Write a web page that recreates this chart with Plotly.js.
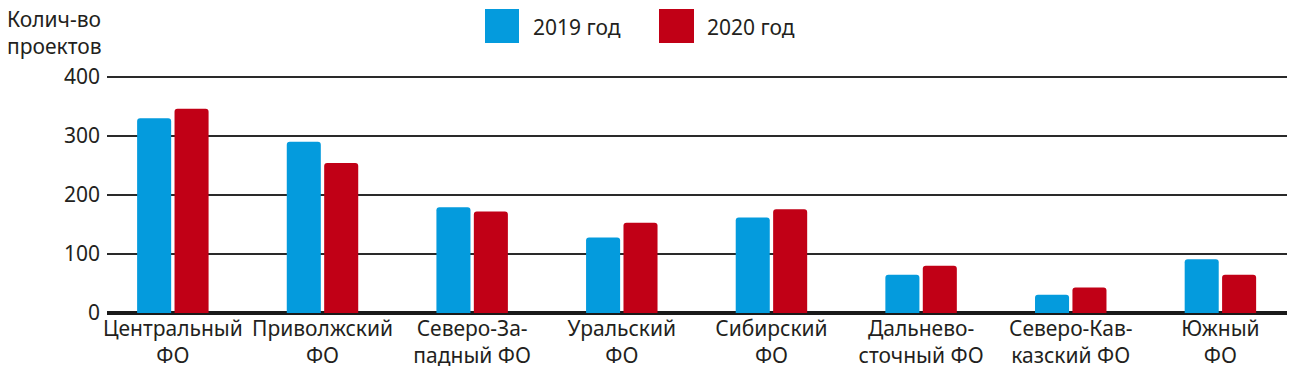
<!DOCTYPE html>
<html>
<head>
<meta charset="utf-8">
<script src="https://cdn.plot.ly/plotly-3.0.1.min.js"></script>
<style>html,body{margin:0;padding:0;background:#fff;}#chart{width:1300px;height:376px;}</style>
</head>
<body>
<div id="chart"></div>
<script>
// Data
const categories = [
  "Центральный<br>ФО",
  "Приволжский<br>ФО",
  "Северо-За-<br>падный ФО",
  "Уральский<br>ФО",
  "Сибирский<br>ФО",
  "Дальнево-<br>сточный ФО",
  "Северо-Кав-<br>казский ФО",
  "Южный<br>ФО"
];
const seriesNames = ["2019 год", "2020 год"];
const values2019 = [330, 290, 179, 128, 162, 65, 31, 91];
const values2020 = [346, 254, 172, 153, 176, 80, 43, 65];
const yTicks = [0, 100, 200, 300, 400];
const yTitle = "Колич-во<br>проектов";

const colors = ["#049bdd", "#c10016"];
const FONT = "Noto Sans, Open Sans, sans-serif";
const TXT = "#231f20";

const idx = categories.map((c, i) => i);
const traces = [values2019, values2020].map((v, k) => ({
  type: "bar",
  x: idx,
  y: v,
  name: seriesNames[k],
  marker: {color: colors[k], cornerradius: 3},
  showlegend: false,
  hoverinfo: "skip"
}));

// manual legend (large squares) placed in paper coordinates
const W = 1180, H = 239, L = 107, B = 313;
const px = x => (x - L) / W;
const py = y => (B - y) / H;
const legendX = [[485, 519, 531], [659, 694, 705]];
const shapes = legendX.map((lx, k) => ({
  type: "rect", xref: "paper", yref: "paper",
  x0: px(lx[0]), x1: px(lx[1]), y0: py(43), y1: py(9),
  fillcolor: colors[k], line: {width: 0}
}));
const annotations = legendX.map((lx, k) => ({
  xref: "paper", yref: "paper", x: px(lx[2]), y: py(27),
  xanchor: "left", yanchor: "middle", showarrow: false,
  text: seriesNames[k], font: {family: FONT, size: 21, color: TXT}
}));
annotations.push({
  xref: "paper", yref: "paper", x: px(5), y: py(3),
  xanchor: "left", yanchor: "top", align: "left", showarrow: false,
  text: yTitle, font: {family: FONT, size: 21, color: TXT}
});

const layout = {
  width: 1300, height: 376,
  margin: {l: L, r: 13, t: 74, b: 63},
  paper_bgcolor: "#fff", plot_bgcolor: "#fff",
  barmode: "group", bargap: 0.5, bargroupgap: 0.09,
  font: {family: FONT, size: 21, color: TXT},
  xaxis: {
    tickmode: "array", tickvals: idx, ticktext: categories,
    range: [-0.44, 7.445], showgrid: false, zeroline: false,
    showline: false, ticks: "", ticklabelstandoff: 1,
    tickfont: {family: FONT, size: 21, color: TXT}, fixedrange: true
  },
  yaxis: {
    range: [0, 405], tickmode: "array", tickvals: yTicks,
    showgrid: true, gridcolor: "#2a2a2a", gridwidth: 1.5,
    zeroline: true, zerolinecolor: "#1a1a1a", zerolinewidth: 4,
    showline: false, ticks: "", ticklabelstandoff: 6,
    tickfont: {family: FONT, size: 21, color: TXT}, fixedrange: true
  },
  shapes: shapes,
  annotations: annotations
};

Plotly.newPlot("chart", traces, layout, {displayModeBar: false, staticPlot: true});
</script>
</body>
</html>
